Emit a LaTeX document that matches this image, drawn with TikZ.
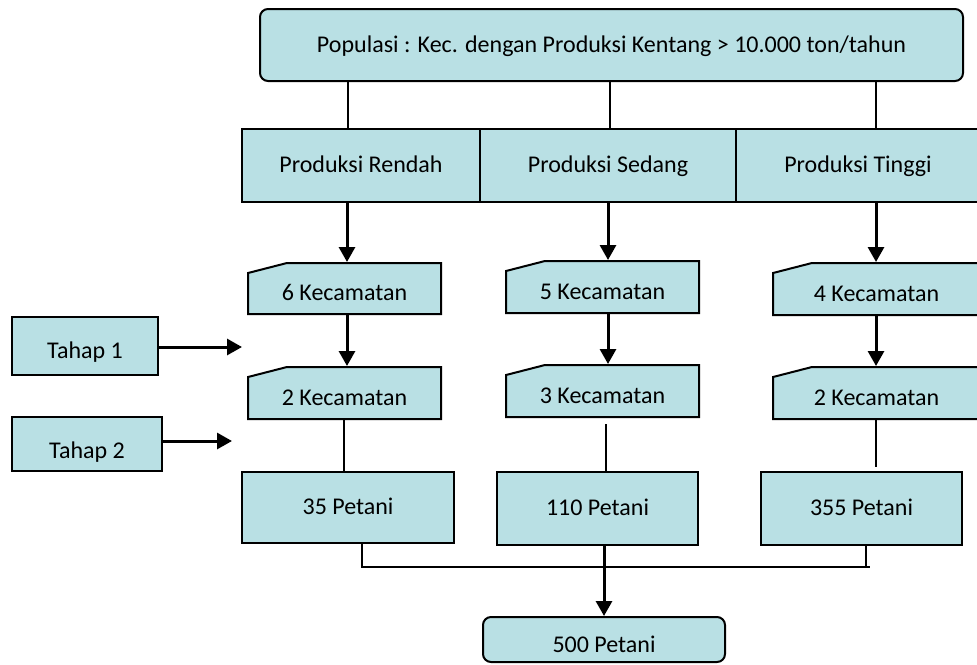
\documentclass[tikz,border=0pt]{standalone}
\usepackage{fontspec}
\setmainfont{Carlito}
\usetikzlibrary{arrows.meta}
\definecolor{boxfill}{RGB}{185,224,228}
\tikzset{
  box/.style={draw=black, line width=1pt, fill=boxfill, inner sep=0pt,
    font=\fontsize{12}{14}\selectfont, text height=8.5pt, text depth=1.5pt},
  kectext/.style={box, draw=none, fill=none, text height=13.5pt, text depth=1.5pt},
  conn/.style={line width=1pt},
  arr/.style={line width=1.5pt, -{Triangle[width=8pt,length=7.5pt]}},
}
% [style] name L T R B text
\newcommand\bx[7][]{\node[box,#1,minimum width={(#5-#3)*0.5pt},minimum height={(#6-#4)*0.5pt}] (#2) at ({(#3+#5)/2},{(#4+#6)/2}) {#7};}
% name L T R B text  (manual-input shape)
\newcommand\kecbox[6]{%
  \draw[box] (#2,#3+10) -- (#2+39,#3) -- (#4,#3) -- (#4,#5) -- (#2,#5) -- cycle;
  \node[kectext,minimum width={(#4-#2)*0.5pt},minimum height={(#5-#3)*0.5pt}] (#1) at ({(#2+#4)/2},{(#3+#5)/2}) {#6};}
\begin{document}
\begin{tikzpicture}[x=0.5pt,y=-0.5pt]
\useasboundingbox (0,0) rectangle (977,664);
% column guide coordinates
\coordinate (x1) at (347,0);
\coordinate (x2) at (608,0);
\coordinate (x3) at (876,0);
% top
\bx[rounded corners=4pt]{top}{260}{9}{963}{81}{Populasi : Kec. dengan Produksi Kentang > 10.000 ton/tahun}
% row
\bx{r1}{242}{128.5}{480}{201.5}{Produksi Rendah}
\bx{r2}{480}{128.5}{736}{201.5}{Produksi Sedang}
\bx{r3}{736}{128.5}{980}{201.5}{Produksi Tinggi}
% kecamatan
\kecbox{k1a}{248}{263}{441}{314}{6 Kecamatan}
\kecbox{k1b}{248}{367}{441}{419}{2 Kecamatan}
\kecbox{k2a}{506}{261}{699}{313}{5 Kecamatan}
\kecbox{k2b}{506}{365}{699}{417}{3 Kecamatan}
\kecbox{k3a}{773}{263}{980}{315}{4 Kecamatan}
\kecbox{k3b}{773}{367}{980}{419}{2 Kecamatan}
% tahap
\bx[text height=13.5pt]{t1}{12}{317}{158}{375}{Tahap 1}
\bx[text height=16pt]{t2}{12}{417}{162}{471}{Tahap 2}
\coordinate (a1) at (242,347);
\coordinate (a2) at (232,441);
% petani
\bx{p1}{242}{472}{454}{543}{35 Petani}
\bx{p2}{497}{472}{698}{545}{110 Petani}
\bx{p3}{761}{472}{962}{545}{355 Petani}
\bx[rounded corners=4pt,text height=14pt]{p500}{483}{617}{725}{662}{500 Petani}
\coordinate (xb1) at (362,0);
\coordinate (xb3) at (866,0);
\coordinate (hy) at (0,567);
% connectors top -> rows
\draw[conn] (top.south -| 348,0) -- (r1.north -| 348,0);
\draw[conn] (top.south -| 610,0) -- (r2.north -| 610,0);
\draw[conn] (top.south -| x3) -- (r3.north -| x3);
% rows -> kec
\draw[arr] (r1.south -| x1) -- (k1a.north -| x1);
\draw[arr] (r2.south -| x2) -- (k2a.north -| x2);
\draw[arr] (r3.south -| x3) -- (k3a.north -| x3);
\draw[arr] (k1a.south -| x1) -- (k1b.north -| x1);
\draw[arr] (k2a.south -| x2) -- (k2b.north -| x2);
\draw[arr] (k3a.south -| x3) -- (k3b.north -| x3);
% kec -> petani
\draw[conn] (k1b.south -| 344,0) -- (p1.north -| 344,0);
\draw[conn] ([yshift=-3pt]k2b.south -| 606,0) -- (p2.north -| 606,0);
\draw[conn] (k3b.south -| x3) -- ([yshift=2pt]p3.north -| x3);
% tahap arrows
\draw[arr] (t1.east |- a1) -- (a1);
\draw[arr] (t2.east |- a2) -- (a2);
% bottom
\draw[conn] (p1.south -| xb1) -- (xb1 |- hy) -- (870,567);
\draw[conn] (p3.south -| xb3) -- (xb3 |- hy);
\draw[arr] (p2.south -| p500.north) -- (p500.north);
\end{tikzpicture}
\end{document}
